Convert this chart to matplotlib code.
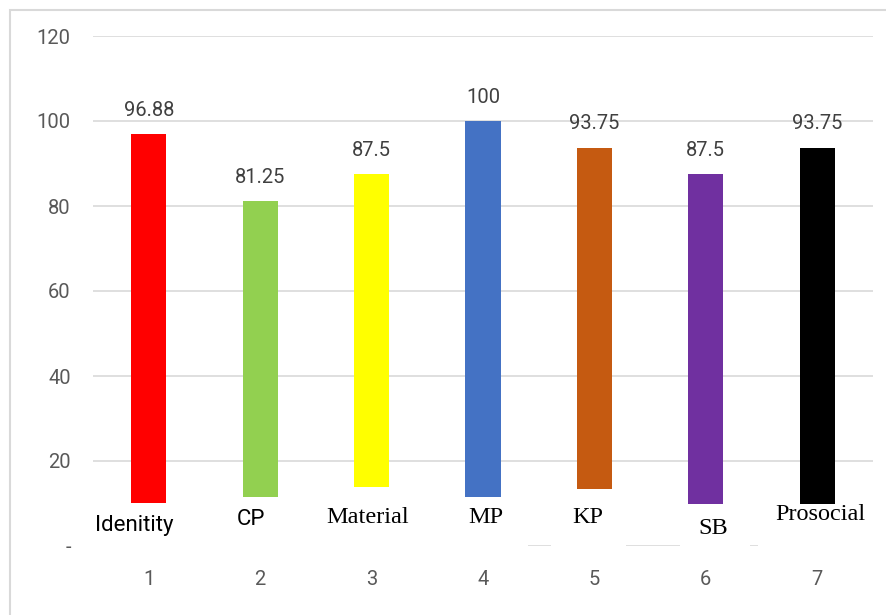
import matplotlib
matplotlib.use("Agg")
import matplotlib.pyplot as plt
from matplotlib.patches import Rectangle

# chart data
positions = [1, 2, 3, 4, 5, 6, 7]
values = [96.88, 81.25, 87.5, 100, 93.75, 87.5, 93.75]
value_labels = ["96.88", "81.25", "87.5", "100", "93.75", "87.5", "93.75"]
categories = ["Idenitity", "CP", "Material", "MP", "KP", "SB", "Prosocial"]
bar_colors = ["#FF0000", "#92D050", "#FFFF00", "#4472C4", "#C55A11", "#7030A0", "#000000"]
y_ticks = [0, 20, 40, 60, 80, 100, 120]
y_tick_labels = ["-", "20", "40", "60", "80", "100", "120"]

# pasted white label boxes that hide the bar bottoms (layout)
box_left = [0.5, 1.5, 2.5, 3.5, 4.61, 5.77, 6.47]
box_right = [1.5, 2.5, 3.5, 4.405, 5.285, 6.40, 7.6]
box_top = [10.2, 11.6, 14.0, 11.6, 13.5, 9.9, 9.9]
label_x = [0.868, 1.918, 2.968, 4.027, 4.942, 6.064, 7.024]
label_y = [4.9, 6.35, 6.6, 6.6, 6.6, 4.0, 7.5]
label_serif = [False, False, True, True, True, True, True]

fig = plt.figure(figsize=(8.87, 6.15), dpi=100)
ax = fig.add_axes([93 / 887, 1 - 546 / 615, 780 / 887, 510 / 615])

ax.bar(positions, values, width=0.315, color=bar_colors, zorder=2)

for x, v, s in zip(positions, values, value_labels):
    ax.annotate(s, xy=(x, v), xytext=(0, 17), textcoords="offset points",
                ha="center", va="center", fontsize=14.5, color="#404040",
                family="Roboto", zorder=5)

ax.set_xlim(0.5, 7.5)
ax.set_ylim(0, 120)
ax.set_yticks(y_ticks)
ax.set_yticklabels(y_tick_labels)
ax.set_xticks(positions)
ax.set_xticklabels([str(p) for p in positions])
ax.tick_params(axis="both", length=0, labelsize=14.5, labelcolor="#595959")
ax.tick_params(axis="y", pad=16)
ax.tick_params(axis="x", pad=17)
for lbl in ax.get_xticklabels() + ax.get_yticklabels():
    lbl.set_family("Roboto")

ax.grid(axis="y", color="#D9D9D9", linewidth=1.2, zorder=0)
ax.set_axisbelow(True)
for sp in ax.spines.values():
    sp.set_visible(False)

# white boxes with category names covering the bar bottoms
for l, r, t in zip(box_left, box_right, box_top):
    ax.add_patch(Rectangle((l, -2.5), r - l, t + 2.5, facecolor="white",
                           edgecolor="none", zorder=3, clip_on=False))

for x, y, name, serif in zip(label_x, label_y, categories, label_serif):
    if serif:
        ax.text(x, y, name, ha="center", va="center", fontsize=17.5,
                family="Liberation Serif", color="black", zorder=4)
    else:
        ax.text(x, y, name, ha="center", va="center", fontsize=16,
                family=["Liberation Sans Narrow", "Roboto"],
                fontstretch="condensed", color="black", zorder=4)

# chart area border
fig.patches.append(Rectangle((10 / 887, -0.05), 1.0, (605 / 615) + 0.05,
                             transform=fig.transFigure, fill=False,
                             edgecolor="#D9D9D9", linewidth=1.5))

fig.savefig("out.png", dpi=100, facecolor="white")
